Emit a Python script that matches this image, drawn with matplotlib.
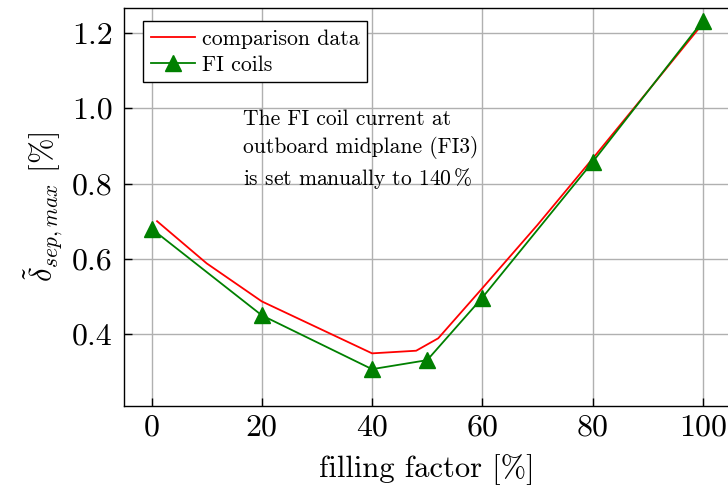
import matplotlib
matplotlib.use("Agg")
import matplotlib.pyplot as plt

# data
x_comp = [1, 10, 20, 30, 40, 48, 52, 60, 70, 80, 90, 100]
y_comp = [0.70, 0.588, 0.487, 0.418, 0.349, 0.356, 0.389, 0.522, 0.69, 0.866, 1.045, 1.225]

x_fi = [0, 20, 40, 50, 60, 80, 100]
y_fi = [0.68, 0.45, 0.307, 0.331, 0.497, 0.857, 1.232]

xticks = [0, 20, 40, 60, 80, 100]
yticks = [0.4, 0.6, 0.8, 1.0, 1.2]

plt.rcParams['font.family'] = 'serif'
plt.rcParams['font.serif'] = ['cmr10', 'DejaVu Serif']
plt.rcParams['mathtext.fontset'] = 'cm'
plt.rcParams['axes.formatter.use_mathtext'] = True

fig = plt.figure(figsize=(7.28, 4.94), dpi=100)
ax = fig.add_axes([0.1703, 0.178, 0.833, 0.806])

ax.plot(x_comp, y_comp, color='red', linewidth=1.3, label='comparison data')
ax.plot(x_fi, y_fi, color='green', linewidth=1.3, marker='^', markersize=11,
        label='FI coils')

ax.set_xlim(-5, 105)
ax.set_ylim(0.209, 1.2665)
ax.set_xticks(xticks)
ax.set_yticks(yticks)
ax.set_xticklabels([str(t) for t in xticks])
ax.set_yticklabels([f'{t:.1f}' for t in yticks])
ax.tick_params(direction='in', length=6, width=1, labelsize=23)
ax.tick_params(axis='x', pad=6)
ax.tick_params(axis='y', pad=8)
ax.grid(True, color='#b0b0b0', linewidth=1)
ax.set_axisbelow(True)
for s in ax.spines.values():
    s.set_linewidth(1)

ax.set_xlabel('filling factor [%]', fontsize=22, labelpad=9)
ax.set_ylabel(r'$\tilde{\delta}_{sep,max}$ [%]', fontsize=22, labelpad=6)

ax.text(16.5, 0.997, 'The FI coil current at\noutboard midplane (FI3)\nis set manually to 140$\\,$%',
        ha='left', va='top', fontsize=15.5, linespacing=1.4)

leg = ax.legend(loc='upper left', fontsize=15.7, fancybox=False, edgecolor='black',
                framealpha=1, borderpad=0.35, handlelength=2.05, handletextpad=0.3,
                labelspacing=0.3, borderaxespad=0, bbox_to_anchor=(0.0314, 0.966))
leg.get_frame().set_linewidth(1)

fig.savefig('out.png', dpi=100)
